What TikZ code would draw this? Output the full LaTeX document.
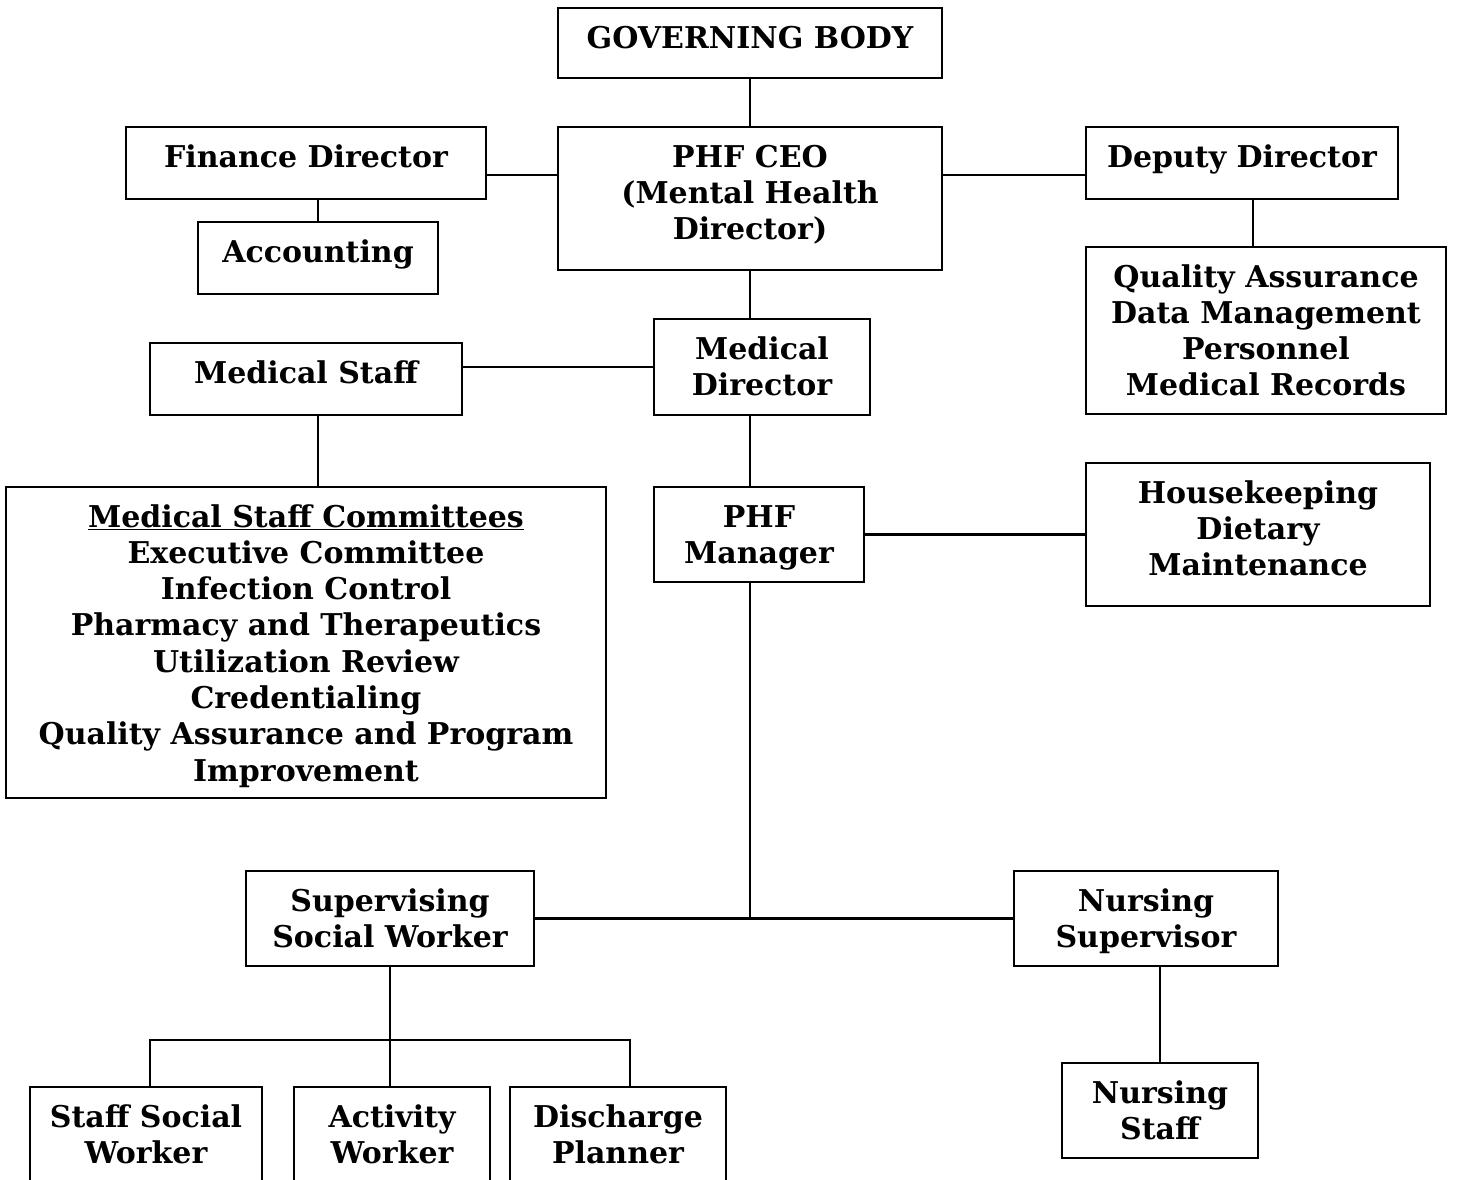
\documentclass[tikz,border=0pt]{standalone}
\usepackage{fontspec}
\setmainfont{DejaVu Serif}

% boxes and connecting lines of the chart
\tikzset{
    unit/.style={draw, line width=2.4pt, inner sep=0pt},
    link/.style={line width=2.2pt}
}
% text of a box: width, height, lines (set from the top)
\newcommand{\unittext}[3]{\parbox[c][#2][t]{#1}{\centering\rule{0pt}{40pt}#3}}

\begin{document}
\begin{tikzpicture}[x=1pt, y=-1pt, font=\fontsize{30}{36.3}\selectfont\bfseries]
    \useasboundingbox (0,0) rectangle (1457,1179);

    % Vertice dell'organigramma
    \node[unit] (gov) at (750,43) {\unittext{384pt}{70pt}{GOVERNING BODY}};
    \node[unit] (ceo) at (750,198.5) {\unittext{384pt}{143pt}{PHF CEO\\(Mental Health\\Director)}};

    % Ramo finanziario e vicedirettore
    \node[unit] (fin) at (306,163) {\unittext{360pt}{72pt}{Finance Director}};
    \node[unit] (acc) at (318,258) {\unittext{240pt}{72pt}{Accounting}};
    \node[unit] (dep) at (1242,163) {\unittext{312pt}{72pt}{Deputy Director}};
    \node[unit] (qa) at (1266,330.5) {\unittext{360pt}{167pt}{Quality Assurance\\Data Management\\Personnel\\Medical Records}};

    % Direzione medica
    \node[unit] (mdir) at (762,367) {\unittext{216pt}{96pt}{Medical\\Director}};
    \node[unit] (mstaff) at (306,379) {\unittext{312pt}{72pt}{Medical Staff}};
    \node[unit] (cmt) at (306,642.5) {\unittext{600pt}{311pt}{\underline{Medical Staff Committees}\\Executive Committee\\Infection Control\\Pharmacy and Therapeutics\\Utilization Review\\Credentialing\\Quality Assurance and Program\\Improvement}};

    % Gestione del reparto
    \node[unit] (mgr) at (759,534.5) {\unittext{210pt}{95pt}{PHF\\Manager}};
    \node[unit] (hk) at (1258,534.5) {\unittext{344pt}{143pt}{Housekeeping\\Dietary\\Maintenance}};

    % Servizio sociale e infermieristico
    \node[unit] (ssw) at (390,918.5) {\unittext{288pt}{95pt}{Supervising\\Social Worker}};
    \node[unit] (nsup) at (1146,918.5) {\unittext{264pt}{95pt}{Nursing\\Supervisor}};
    \node[unit] (sw) at (146,1135) {\unittext{232pt}{96pt}{Staff Social\\Worker}};
    \node[unit] (act) at (392,1135) {\unittext{196pt}{96pt}{Activity\\Worker}};
    \node[unit] (dis) at (618,1135) {\unittext{216pt}{96pt}{Discharge\\Planner}};
    \node[unit] (nstaff) at (1160,1110.5) {\unittext{196pt}{95pt}{Nursing\\Staff}};

    % Collegamenti
    \draw[link] (gov) -- (ceo);
    \draw[link] ([yshift=-12pt]fin.east) -- ([yshift=-12pt]fin.east -| ceo.west);
    \draw[link] ([yshift=-12pt]dep.west) -- ([yshift=-12pt]dep.west -| ceo.east);
    \draw[link] (acc.north) -- (acc.north |- fin.south);
    \draw[link] ([xshift=11pt]dep.south) -- ([xshift=11pt]dep.south |- qa.north);
    \draw[link] (ceo.south) -- (ceo.south |- mdir.north);
    \draw[link] (mdir.west) -- (mdir.west -| mstaff.east);
    \draw[link] ([xshift=12pt]mstaff.south) -- ([xshift=12pt]mstaff.south |- cmt.north);
    \draw[link] (ceo.south |- mdir.south) -- (ceo.south |- mgr.north);
    \draw[link] (mgr) -- (hk);
    \coordinate (hub) at (ceo.south |- ssw.east);
    \draw[link] (ceo.south |- mgr.south) -- (hub);
    \draw[link] (ssw) -- (nsup);
    \draw[link] (ssw.south) -- ++(0,73) coordinate (fork);
    \draw[link] ([xshift=4pt]sw.north) |- (fork) -| ([xshift=12pt]dis.north);
    \draw[link] (fork) -- (fork |- act.north);
    \draw[link] (nstaff.north) -- (nstaff.north |- nsup.south);
\end{tikzpicture}
\end{document}
